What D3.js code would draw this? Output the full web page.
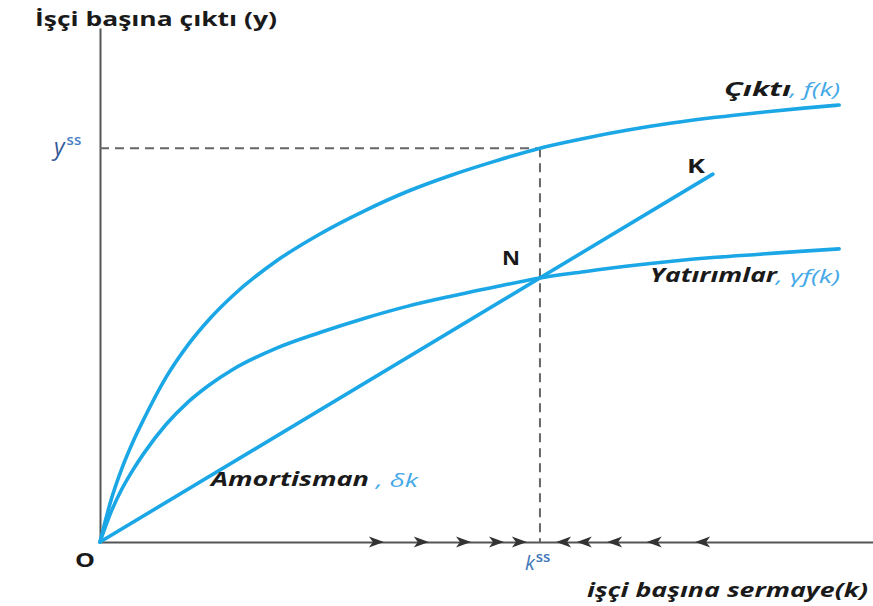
<!DOCTYPE html>
<html><head><meta charset="utf-8">
<script src="https://cdn.jsdelivr.net/npm/d3@7/dist/d3.min.js"></script>
<style>
html,body{margin:0;padding:0;background:#fff;}
svg{display:block;}
text{font-family:"Open Sans","DejaVu Sans",sans-serif;}
</style></head>
<body>
<script>
// ---- data ----
const kGrid      = [0, 0.25, 0.5, 0.75, 1, 1.5, 2, 2.5, 3, 4, 5, 6, 7, 8, 9, 10, 11, 12, 13, 14, 15, 16, 16.8];
const outputVals = [0, 0.95, 1.68, 2.28, 2.8, 3.74, 4.48, 5.08, 5.58, 6.38, 7.0, 7.52, 7.97, 8.34, 8.66, 8.95, 9.17, 9.36, 9.52, 9.65, 9.76, 9.86, 9.93];
const investVals = [0, 0.68, 1.21, 1.64, 2.02, 2.67, 3.18, 3.58, 3.91, 4.40, 4.76, 5.08, 5.36, 5.59, 5.80, 6.0, 6.14, 6.27, 6.38, 6.47, 6.54, 6.61, 6.66];
const deprK      = [0, 13.93];
const deprVals   = [0, 8.36];
const kSS = 10, ySS = 8.95;
const arrowsRight = [6.43, 7.45, 8.41, 9.16, 9.68];
const arrowsLeft  = [10.39, 10.86, 11.55, 12.45, 13.55];

const W = 873, H = 606;
const blue = "#1ba7e6", lblBlue = "#45a9e8", axisCol = "#555", dark = "#1a1a1a";

const svg = d3.select("body").append("svg").attr("width", W).attr("height", H);

const x = d3.scaleLinear().domain([0, 17.57]).range([100, 873]);
const y = d3.scaleLinear().domain([0, 11.68]).range([542, 28]);

// axes (no ticks)
svg.append("g").attr("transform", `translate(0,${y(0)})`)
  .call(d3.axisBottom(x).tickValues([]).tickSizeOuter(0))
  .call(g => g.select(".domain").attr("stroke", axisCol).attr("stroke-width", 2));
svg.append("g").attr("transform", `translate(${x(0)},0)`)
  .call(d3.axisLeft(y).tickValues([]).tickSizeOuter(0))
  .call(g => g.select(".domain").attr("stroke", axisCol).attr("stroke-width", 2));

// dashed guides
svg.append("line").attr("x1", x(0)).attr("x2", x(kSS)).attr("y1", y(ySS)).attr("y2", y(ySS))
  .attr("stroke", "#666").attr("stroke-width", 2).attr("stroke-dasharray", "9,6");
svg.append("line").attr("x1", x(kSS)).attr("x2", x(kSS)).attr("y1", y(ySS)).attr("y2", y(0))
  .attr("stroke", "#666").attr("stroke-width", 2).attr("stroke-dasharray", "9,6");

// curves
const line = d3.line().x(d => x(d[0])).y(d => y(d[1])).curve(d3.curveMonotoneX);
const draw = (ks, vs) => svg.append("path").datum(ks.map((k, i) => [k, vs[i]]))
  .attr("d", line).attr("fill", "none").attr("stroke", blue).attr("stroke-width", 3.6)
  .attr("stroke-linecap", "round");
draw(kGrid, outputVals);
draw(kGrid, investVals);
draw(deprK, deprVals);

// arrows on the k axis
const head = "M1,0 L-14,-5.5 L-10,0 L-14,5.5 Z";
svg.selectAll(".ar").data(arrowsRight).join("path")
  .attr("d", head).attr("fill", "#333")
  .attr("transform", d => `translate(${x(d)},${y(0)})`);
svg.selectAll(".al").data(arrowsLeft).join("path")
  .attr("d", head).attr("fill", "#333")
  .attr("transform", d => `translate(${x(d)},${y(0)}) rotate(180)`);

// texts
const t = (px, py, size, weight, style, fill, len) => {
  const s = svg.append("text")
    .attr("x", px).attr("y", py).attr("font-size", size).attr("font-weight", weight)
    .attr("font-style", style).attr("fill", fill);
  if (len) s.attr("textLength", len).attr("lengthAdjust", "spacingAndGlyphs");
  return s;
};

t(35, 26, 20, 700, "normal", dark, 242).text("İşçi başına çıktı (y)");
t(75, 567, 20, 700, "normal", dark, 20).text("O");
t(502, 265, 19, 700, "normal", dark, 18).text("N");
t(687, 173, 19, 700, "normal", dark, 18).text("K");

// y ss
const yl = t(54, 155, 23, 400, "italic", "#33599a");
yl.append("tspan").text("y");
yl.append("tspan").attr("font-size", 15).attr("font-style", "normal").attr("font-weight", 600)
  .attr("fill", "#4a80c4").attr("dy", -10).attr("dx", 2).text("ss");

// k ss
const kl = t(525, 570, 20, 400, "italic", "#3f78b8");
kl.append("tspan").text("k");
kl.append("tspan").attr("font-size", 15).attr("font-style", "normal").attr("font-weight", 600)
  .attr("dy", -8).attr("dx", 1).text("ss");

// Çıktı, f(k)
t(724, 96, 20, 700, "italic", dark, 67).text("Çıktı");
t(790, 96, 18, 400, "italic", lblBlue, 50).text(", f(k)");

// Yatırımlar, γf(k)
t(650, 282, 20, 700, "italic", dark, 127).text("Yatırımlar");
t(776, 283, 18, 400, "italic", lblBlue, 64).text(", γf(k)");

// Amortisman, δk
t(211, 486, 20, 700, "italic", dark, 158).text("Amortisman");
t(376, 487, 18, 400, "italic", lblBlue, 42).text(", δk");

// x label
t(587, 597, 19, 700, "italic", dark, 281).text("işçi başına sermaye(k)");
</script>
</body></html>
